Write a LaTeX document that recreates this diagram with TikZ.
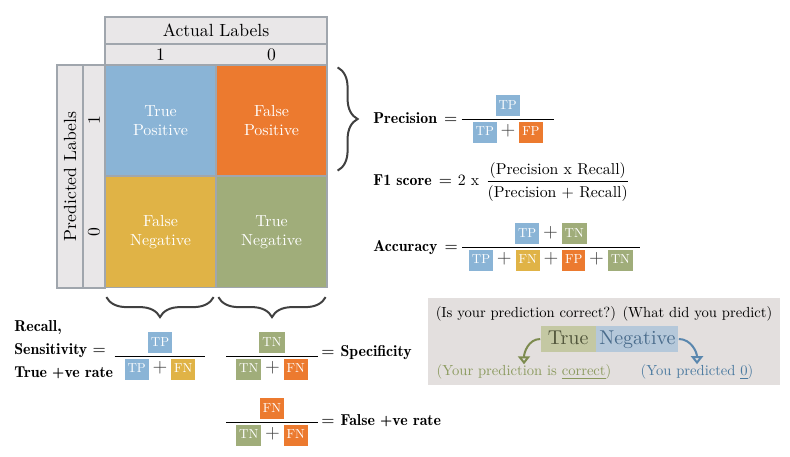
\documentclass[tikz,border=0pt]{standalone}
\usepackage{amsmath}
\usepackage{fontspec}
\IfFontExistsTF{lmromandemi10-regular.otf}
  {\setmainfont{lmroman10-regular.otf}[BoldFont=lmromandemi10-regular.otf,ItalicFont=lmroman10-italic.otf]}
  {}
\usepackage{xcolor}
\usetikzlibrary{decorations.pathreplacing,arrows.meta}

\definecolor{tpblue}{HTML}{8AB4D6}
\definecolor{fporange}{HTML}{EC7A2F}
\definecolor{fnyellow}{HTML}{E0B346}
\definecolor{tngreen}{HTML}{A0AD7A}
\definecolor{hdrgray}{HTML}{E9E7E8}
\definecolor{linegray}{HTML}{A0A6AD}
\definecolor{panelgray}{HTML}{E3DFDE}
\definecolor{truefill}{HTML}{C4C8A3}
\definecolor{truetext}{HTML}{50543A}
\definecolor{negfill}{HTML}{B5C8DA}
\definecolor{negtext}{HTML}{4A6C8C}
\definecolor{oliveline}{HTML}{7D8B4F}
\definecolor{olivetext}{HTML}{8B9A5E}
\definecolor{blueline}{HTML}{5A87AE}
\definecolor{bluetext}{HTML}{4B7AA0}

\newcommand{\cb}[2]{\mbox{\fboxsep=1.5pt\colorbox{#1}{\rule[-2pt]{0pt}{7.5pt}\textcolor{white}{\fontsize{6.5}{6.5}\selectfont #2}}}}
\newcommand{\pl}{\mathbin{\textcolor{black!75}{\text{\fontsize{9.5}{9.5}\selectfont +}}}}
\newcommand{\ratio}[3][5pt]{\dfrac{#2}{\hspace{#1}#3\hspace{#1}}}
\newcommand{\eq}{\hspace{3.5pt}$=$\hspace{1pt}}

\tikzstyle{curly} = [decorate,decoration={brace,amplitude=10pt},line width=1pt,draw=black!75]
\tikzstyle{hint} = [line width=1pt,-{Triangle[open,width=6pt,length=4pt]}]

\begin{document}
\begin{tikzpicture}
        [
            x=0.5pt,y=-0.5pt,
            cell/.style={draw=linegray,line width=0.6pt,minimum width=55.5pt,minimum height=55.5pt,inner sep=0,text=white,align=center,font=\fontsize{8}{9.5}\selectfont},
            hdr/.style={draw=linegray,line width=0.6pt,fill=hdrgray,inner sep=0,font=\fontsize{8.8}{10}\selectfont},
            formula/.style={anchor=west,inner sep=0,font=\fontsize{7.9}{9.5}\selectfont},
            bold/.style={font=\fontsize{7.9}{11.5}\bfseries},
            frac/.style={inner sep=0,font=\fontsize{7.9}{9.5}\selectfont},
            note/.style={inner sep=0,font=\fontsize{7.3}{9}\selectfont},
            word/.style={inner ysep=2pt,inner xsep=1pt,text height=7pt,text depth=2pt,font=\fontsize{10}{12}\selectfont},
        ]
    \useasboundingbox (0,0) rectangle (790,456);

    % headers
    \node[hdr,minimum width=111pt,minimum height=13.5pt] (actual) at (216,30.5) {Actual Labels};
    \node[hdr,minimum width=111pt,minimum height=10.5pt] (actcls) at (216,54.5) {};
    \node[hdr,draw=none,fill=none] (act1) at (160.5,54.5) {1};
    \node[hdr,draw=none,fill=none] (act0) at (271.5,54.5) {0};
    \node[hdr,rotate=90,minimum width=111.5pt,minimum height=13pt] (pred) at (70,176.5) {Predicted Labels};
    \node[hdr,rotate=90,minimum width=111.5pt,minimum height=11pt] (predcls) at (94,176.5) {};
    \node[hdr,draw=none,fill=none,rotate=90] (pred1) at (94,120.5) {1};
    \node[hdr,draw=none,fill=none,rotate=90] (pred0) at (94,232) {0};

    % matrix
    \node[cell,fill=tpblue] (tp) at (160.5,120.5) {True\\Positive};
    \node[cell,fill=fporange] (fp) at (271.5,120.5) {False\\Positive};
    \node[cell,fill=fnyellow] (fn) at (160.5,232) {False\\Negative};
    \node[cell,fill=tngreen] (tn) at (271.5,232) {True\\Negative};

    % braces
    \draw[curly] ([shift={(5pt,-1.5pt)}]fp.north east) -- ([shift={(5pt,3pt)}]fp.south east);
    \draw[curly] ([shift={(-1.5pt,-4.5pt)}]fn.south east) -- ([shift={(1pt,-4.5pt)}]fn.south west);
    \draw[curly] ([shift={(-1pt,-4.5pt)}]tn.south east) -- ([shift={(1.5pt,-4.5pt)}]tn.south west);

    % formulas
    \node[formula] (prec) at (373,119) {\textbf{Precision}\eq$\ratio[5.5pt]{\cb{tpblue}{TP}}{\cb{tpblue}{TP}\pl\cb{fporange}{FP}}$};
    \node[formula] (fone) at (373,182) {\textbf{F1 score}\eq\hspace{2pt}2\hspace{2.5pt}x\hspace{3pt}$\dfrac{\text{(Precision x Recall)}}{\text{(Precision + Recall)}}$};
    \node[formula] (acc) at (373,247) {\textbf{Accuracy}\eq$\ratio[3.4pt]{\cb{tpblue}{TP}\pl\cb{tngreen}{TN}}{\cb{tpblue}{TP}\pl\cb{fnyellow}{FN}\pl\cb{fporange}{FP}\pl\cb{tngreen}{TN}}$};

    \node[formula,bold,align=left] (recall) at (14,350) {Recall,\\Sensitivity $=$\\True +ve rate};
    \node[frac] (recfrac) at (160,356) {$\ratio{\cb{tpblue}{TP}}{\cb{tpblue}{TP}\pl\cb{fnyellow}{FN}}$};
    \node[frac] (specfrac) at (272,356) {$\ratio{\cb{tngreen}{TN}}{\cb{tngreen}{TN}\pl\cb{fporange}{FN}}$};
    \node[formula,bold] (spec) at (321,353) {$=$\hspace{3pt}Specificity};
    \node[frac] (fprfrac) at (272,422) {$\ratio{\cb{fporange}{FN}}{\cb{tngreen}{TN}\pl\cb{fporange}{FN}}$};
    \node[formula,bold] (fpr) at (321,421) {$=$\hspace{3pt}False +ve rate};

    % reading the name
    \node[fill=panelgray,minimum width=176pt,minimum height=43.5pt,inner sep=0] (panel) at (604,341.5) {};
    \node[note] (question) at (604,314) {(Is your prediction correct?) (What did you predict)};
    \node[word,fill=truefill,text=truetext,minimum width=27.5pt,anchor=east] (tru) at (596,339) {True};
    \node[word,fill=negfill,text=negtext,minimum width=41pt,anchor=west] (neg) at (596,339) {Negative};
    \node[note,text=olivetext] (yourpred) at (524,372) {(Your prediction is \underline{correct})};
    \node[note,text=bluetext] (youpred) at (697,372) {(You predicted \underline{0})};
    \draw[hint,draw=oliveline] (tru.west) to[out=180,in=90] (yourpred.north);
    \draw[hint,draw=blueline] (neg.east) to[out=0,in=90] (youpred.north);
\end{tikzpicture}
\end{document}
